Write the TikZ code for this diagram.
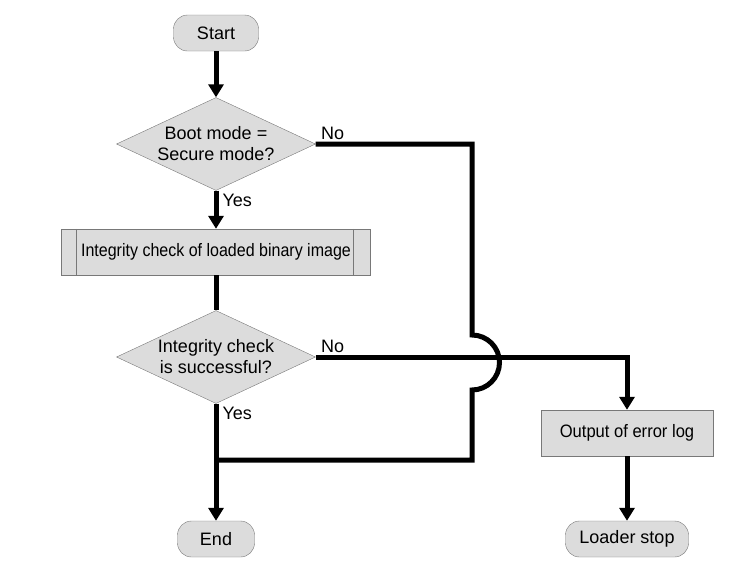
\documentclass[tikz,border=0pt]{standalone}
\usepackage{fontspec}
\setmainfont{Liberation Sans}
\usetikzlibrary{shapes.geometric, arrows.meta}
\definecolor{boxfill}{RGB}{220,220,220}
\definecolor{boxline}{RGB}{120,120,120}

\begin{document}
\begin{tikzpicture}[x=1pt, y=1pt,
  every node/.style={font=\fontsize{18}{21}\selectfont},
  term/.style={draw=boxline, fill=boxfill, rounded corners=14pt, minimum height=36pt, inner sep=0pt},
  proc/.style={draw=boxline, fill=boxfill, minimum height=46pt, inner sep=0pt},
  dec/.style={diamond, draw=boxline, fill=boxfill, aspect=2.14, minimum width=199pt, minimum height=93pt, inner sep=-2pt, align=center},
  flow/.style={line width=5pt, -{Triangle[width=15pt,length=13pt]}},
  wire/.style={line width=5pt},
  tag/.style={inner sep=1pt}]
\useasboundingbox (0,0) rectangle (749,-571);

\node[term, minimum width=85pt] (start) at (216,-33) {Start};
\node[dec] (boot) at (216,-144) {Boot mode =\\Secure mode?};
\node[proc, minimum width=309pt] (check) at (216,-252) {\scalebox{0.89}[1]{Integrity check of loaded binary image}};
\draw[boxline] ([xshift=15pt]check.north west) -- ([xshift=15pt]check.south west);
\draw[boxline] ([xshift=-18pt]check.north east) -- ([xshift=-18pt]check.south east);
\node[dec] (ok) at (216,-357) {Integrity check\\is successful?};
\node[proc, minimum width=172pt] (errlog) at (627,-433) {\scalebox{0.92}[1]{Output of error log}};
\node[term, minimum width=77pt] (end) at (216,-539) {End};
\node[term, minimum width=123pt] (stop) at (627,-539) {Loader stop};

\coordinate (hop) at (472,-335);
\coordinate (back) at (472,-460);

\draw[flow] (start) -- (boot);
\draw[flow] (boot) -- node[tag, pos=0, below right, xshift=3pt]{Yes} (check);
\draw[wire] (check) -- (ok);
\draw[wire] (boot.east) node[tag, above right, xshift=2pt, yshift=1pt]{No} -| (hop)
  arc[start angle=90, end angle=-90, radius=27.5] -- (back) -- (back -| ok.south);
\draw[flow] (ok.east) node[tag, above right, xshift=2pt, yshift=1pt]{No} -| (errlog);
\draw[flow] (ok) -- node[tag, pos=0, below right, xshift=3pt]{Yes} (end);
\draw[flow] (errlog) -- (stop);
\end{tikzpicture}
\end{document}
